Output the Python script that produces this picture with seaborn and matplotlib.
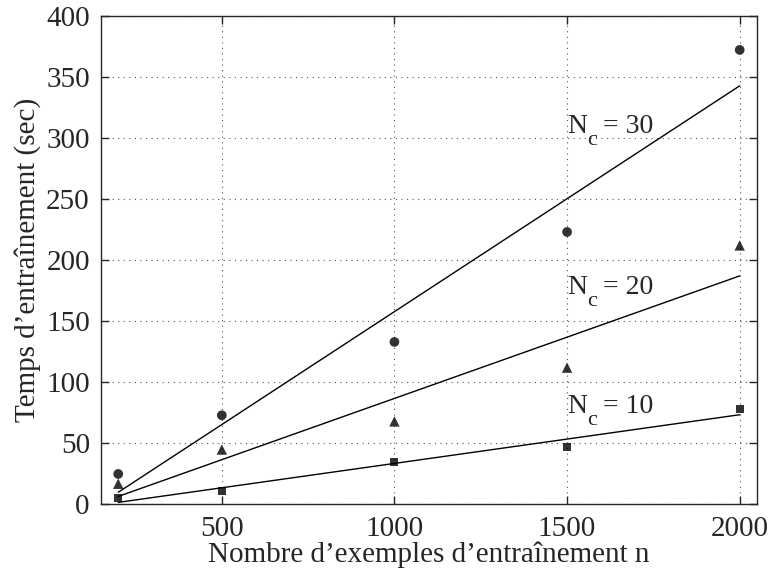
import numpy as np
import pandas as pd
import matplotlib
matplotlib.use('Agg')
import matplotlib.pyplot as plt
import seaborn as sns

# donnees
n_exemples = [200, 500, 1000, 1500, 2000]
temps_nc30 = [25, 73, 133, 223, 372]
temps_nc20 = [17, 45, 68, 112, 212]
temps_nc10 = [5, 11, 35, 47, 78]
etiquettes = ['30', '20', '10']
pos_etiquettes = [304, 172, 75]

sns.set_style('ticks')
plt.rcParams['font.family'] = ['Liberation Serif', 'DejaVu Serif']

df = pd.DataFrame({'n': n_exemples, 'Nc30': temps_nc30,
                   'Nc20': temps_nc20, 'Nc10': temps_nc10})

fig = plt.figure(figsize=(7.72, 5.74), dpi=100)
ax = fig.add_axes([0.1308, 0.1211, 0.8497, 0.8516])

for col, mk, ms in [('Nc30', 'o', 7), ('Nc20', '^', 7.5), ('Nc10', 's', 5.8)]:
    sns.regplot(x='n', y=col, data=df, ax=ax, ci=None, color='black',
                marker=mk, scatter_kws={'s': ms**2, 'edgecolors': 'none'},
                line_kws={'linewidth': 1.0})

# N_c a la maniere matlab : indice bien descendu
for lab, yy in zip(etiquettes, pos_etiquettes):
    ax.annotate('N', (1500, yy), xytext=(0, 0), textcoords='offset points',
                fontsize=20, va='baseline', ha='left')
    ax.annotate('c', (1500, yy), xytext=(14.4, -8.6), textcoords='offset points',
                fontsize=16, va='baseline', ha='left')
    ax.annotate('= ' + lab, (1500, yy), xytext=(26, 0), textcoords='offset points',
                fontsize=20, va='baseline', ha='left')

ax.set_xlim(150, 2050)
ax.set_ylim(0, 400)
ax.set_xticks([500, 1000, 1500, 2000])
ax.set_yticks(np.arange(0, 401, 50))
ax.grid(True, linestyle=(0, (1, 4)), color='#555555', linewidth=0.8)
ax.tick_params(direction='in', length=6, width=1, labelsize=21,
               top=True, right=True, pad=8)
for s in ax.spines.values():
    s.set_linewidth(1.0)
    s.set_visible(True)
ax.set_xlabel('Nombre d’exemples d’entraînement n', fontsize=21, labelpad=0)
ax.set_ylabel('Temps d’entraînement (sec)', fontsize=21, labelpad=4)

fig.savefig('out.png', dpi=100)
